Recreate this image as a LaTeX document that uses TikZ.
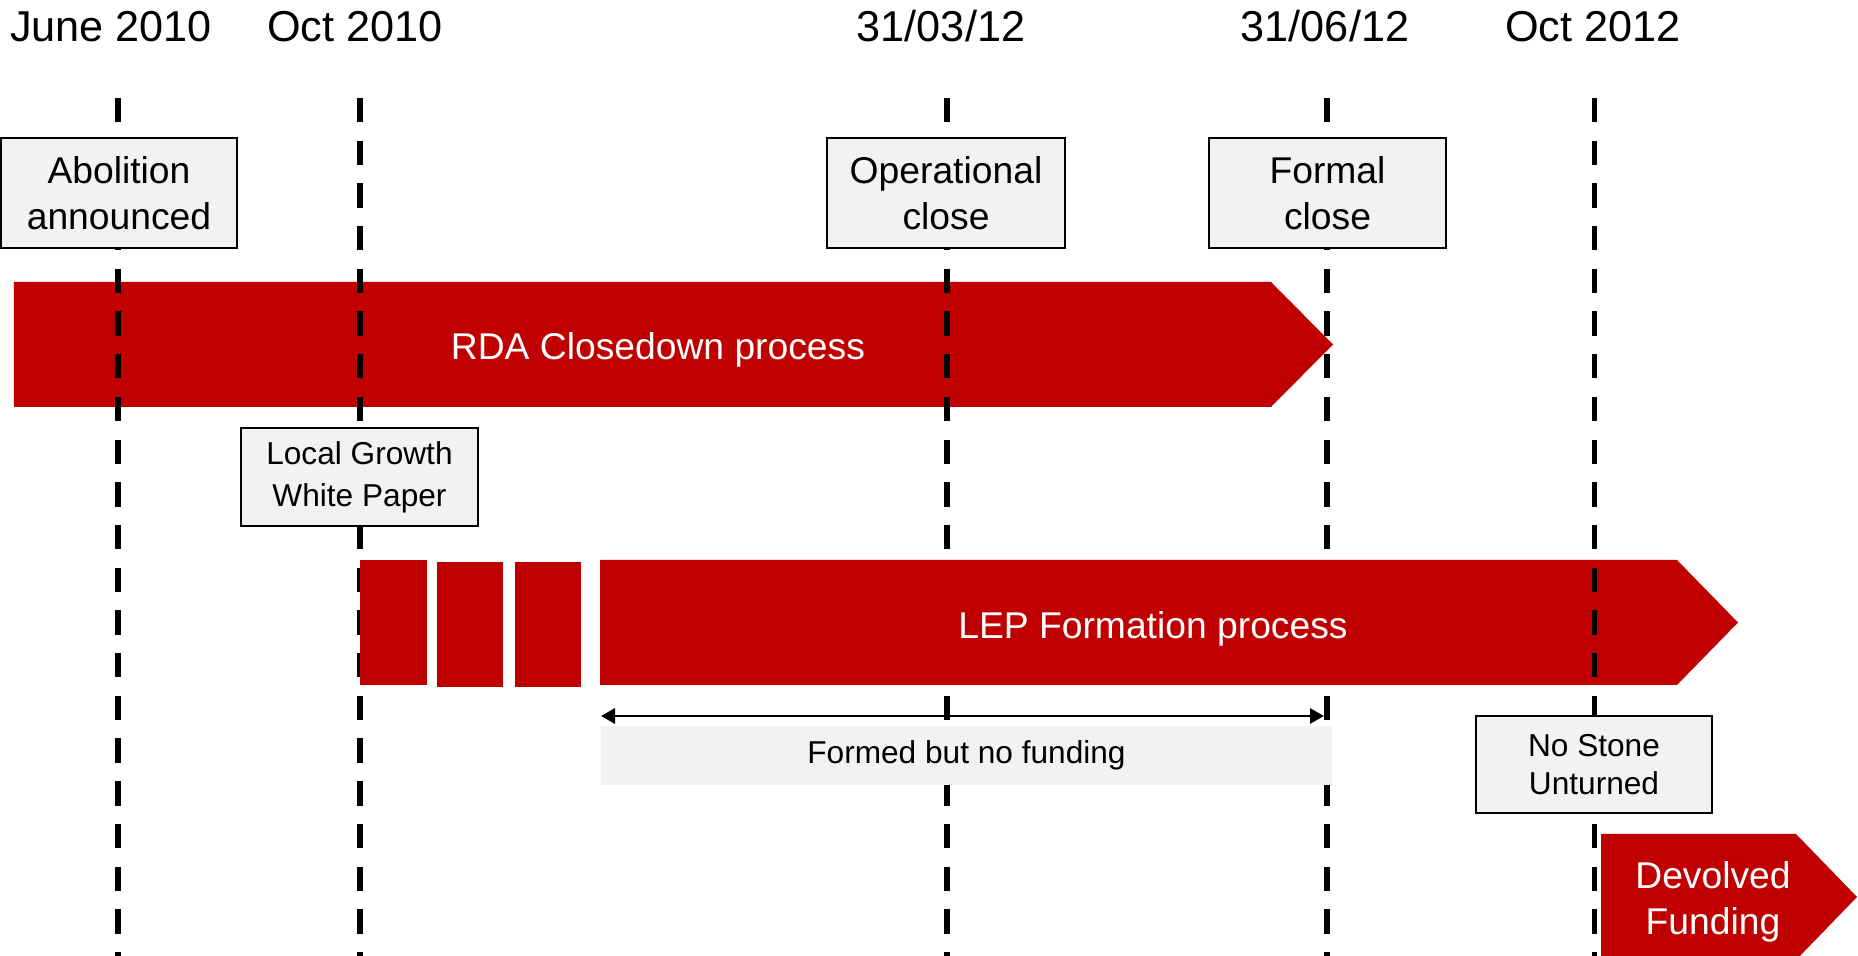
\documentclass[tikz,border=0pt]{standalone}
\usepackage{fontspec}
\setmainfont{Liberation Sans}
\usetikzlibrary{arrows.meta}

\definecolor{barred}{HTML}{C00000}
\definecolor{boxgrey}{HTML}{F2F2F2}

\tikzset{
  timeline/.style={line width=1.7pt, dash pattern=on 0.243cm off 0.184cm},
  datelabel/.style={anchor=base, inner sep=0pt, font=\fontsize{12.3}{15}\selectfont},
  bartext/.style={text=white, inner sep=0pt, align=center, font=\fontsize{10.6}{13.1}\selectfont},
  milestone/.style={draw=black, line width=0.6pt, fill=boxgrey, inner sep=0pt, align=center,
    font=\fontsize{10.6}{13.1}\selectfont},
  smallstone/.style={milestone, font=\fontsize{9}{11}\selectfont},
}

\begin{document}
\begin{tikzpicture}
      \useasboundingbox (0,0) rectangle (18.58,-9.56);

      % RDA closedown bar, under the date lines
      \fill[barred] (0.14,-2.82)--(12.71,-2.82)--(13.33,-3.445)--(12.71,-4.07)--(0.14,-4.07)--cycle;
      \node[bartext] (rda) at (6.58,-3.50) {RDA Closedown process};

      \draw[timeline] (1.18,-0.98)--(1.18,-9.56);
      \draw[timeline] (3.60,-0.98)--(3.60,-9.56);
      \draw[timeline] (9.47,-0.98)--(9.47,-9.56);
      \draw[timeline] (13.27,-0.98)--(13.27,-9.56);

      % LEP formation bar
      \fill[barred] (3.60,-5.60) rectangle (4.27,-6.85);
      \fill[barred] (4.37,-5.62) rectangle (5.03,-6.87);
      \fill[barred] (5.15,-5.62) rectangle (5.81,-6.87);
      \fill[barred] (6.00,-5.60)--(16.77,-5.60)--(17.38,-6.225)--(16.77,-6.85)--(6.00,-6.85)--cycle;
      \node[bartext] (lep) at (11.53,-6.29) {LEP Formation process};

      \draw[timeline] (15.945,-0.98)--(15.945,-9.56);

      \node[datelabel] (june) at (1.11,-0.42) {June 2010};
      \node[datelabel] (octten) at (3.55,-0.42) {Oct 2010};
      \node[datelabel] (march) at (9.41,-0.42) {31/03/12};
      \node[datelabel] (juneend) at (13.25,-0.42) {31/06/12};
      \node[datelabel] (octtwelve) at (15.93,-0.42) {Oct 2012};

      \node[milestone, minimum width=2.36cm, minimum height=1.10cm] (abolition) at (1.19,-1.93) {Abolition\\announced};
      \node[milestone, minimum width=2.38cm, minimum height=1.10cm] (opclose) at (9.46,-1.93) {Operational\\close};
      \node[milestone, minimum width=2.37cm, minimum height=1.10cm] (formclose) at (13.275,-1.93) {Formal\\close};
      \node[smallstone, minimum width=2.37cm, minimum height=0.98cm,
        font=\fontsize{9}{12}\selectfont] (whitepaper) at (3.595,-4.77) {Local Growth\\White Paper};
      \node[smallstone, minimum width=2.36cm, minimum height=0.97cm] (nostone) at (15.94,-7.645) {No Stone\\Unturned};

      \node[fill=boxgrey, inner sep=0pt, minimum width=7.31cm, minimum height=0.59cm,
        font=\fontsize{9}{11}\selectfont] (nofunding) at (9.665,-7.555) {Formed but no funding};
      \coordinate (fundL) at (6.01,-7.16);
      \coordinate (fundR) at (13.24,-7.16);
      \draw[line width=0.85pt, {Triangle[length=0.14cm,width=0.15cm]}-{Triangle[length=0.14cm,width=0.15cm]}] (fundL)--(fundR);

      \fill[barred] (16.01,-8.34)--(17.96,-8.34)--(18.57,-8.97)--(17.96,-9.60)--(16.01,-9.60)--cycle;
      \node[bartext] (devolved) at (17.13,-9.02) {Devolved\\Funding};
\end{tikzpicture}
\end{document}
